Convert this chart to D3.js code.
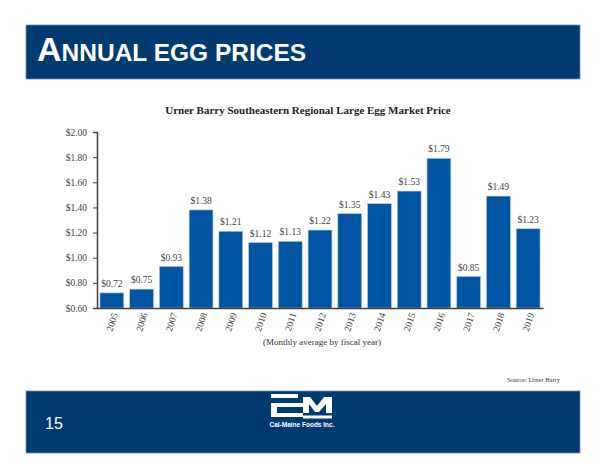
<!DOCTYPE html>
<html><head><meta charset="utf-8">
<script src="https://cdn.jsdelivr.net/npm/d3@7"></script>
<style>body{margin:0;background:#fff}svg{display:block}</style>
</head><body>
<script>
const years = ["2005","2006","2007","2008","2009","2010","2011","2012","2013","2014","2015","2016","2017","2018","2019"];
const prices = [0.72,0.75,0.93,1.38,1.21,1.12,1.13,1.22,1.35,1.43,1.53,1.79,0.85,1.49,1.23];
const yTicks = [0.6,0.8,1.0,1.2,1.4,1.6,1.8,2.0];

const W=605,H=466;
const navy="#003A70", barC="#0054A4";
const serif="Liberation Serif, Times New Roman, serif";
const svg=d3.select("body").append("svg").attr("width",W).attr("height",H);

// header banner
svg.append("rect").attr("x",26).attr("y",25).attr("width",554).attr("height",54).attr("fill",navy).attr("stroke","#6f8fb3").attr("stroke-width",0.8);
const t=svg.append("text").attr("x",37).attr("y",61).attr("fill","#fff").attr("font-family","Liberation Sans, Arial").attr("font-weight","bold");
t.append("tspan").attr("font-size",34).text("A");
t.append("tspan").attr("font-size",24.5).text("NNUAL EGG PRICES");

// chart title
svg.append("text").attr("x",308).attr("y",114).attr("text-anchor","middle").attr("font-family",serif).attr("font-weight","bold").attr("font-size",11).attr("fill","#222").text("Urner Barry Southeastern Regional Large Egg Market Price");

const x=d3.scaleBand().domain(years).range([97,543]).paddingInner(0.2).paddingOuter(0.1);
const y=d3.scaleLinear().domain([0.6,2.0]).range([308,132]);

svg.selectAll("rect.bar").data(prices).join("rect").attr("class","bar")
 .attr("x",(d,i)=>x(years[i])).attr("width",x.bandwidth())
 .attr("y",d=>y(d)).attr("height",d=>y(0.6)-y(d))
 .attr("fill",barC).attr("stroke","#a9c6e6").attr("stroke-width",0.6);

svg.selectAll("text.val").data(prices).join("text").attr("class","val")
 .attr("x",(d,i)=>x(years[i])+x.bandwidth()/2).attr("y",d=>y(d)-6)
 .attr("text-anchor","middle").attr("font-family",serif).attr("font-size",9.5).attr("fill","#444")
 .text(d=>"$"+d.toFixed(2));

// y axis
const ya=svg.append("g").attr("transform","translate(97,0)")
 .call(d3.axisLeft(y).tickValues(yTicks).tickSize(4).tickFormat(d=>"$"+d.toFixed(2)));
ya.attr("font-family",serif);
ya.select(".domain").attr("stroke","#404040").attr("stroke-width",1.5);
ya.selectAll(".tick line").attr("stroke","#404040");
ya.selectAll(".tick text").attr("font-family",serif).attr("font-size",9.5).attr("fill","#444").attr("x",-10);

// x axis
const xa=svg.append("g").attr("transform","translate(0,308)")
 .call(d3.axisBottom(x).tickSize(0).tickSizeOuter(0));
xa.attr("font-family",serif);
xa.select(".domain").attr("stroke","#404040").attr("stroke-width",1.5);
xa.selectAll(".tick text").attr("font-family",serif).attr("font-size",9.5).attr("fill","#444")
 .attr("text-anchor","end").attr("y",0).attr("dy","0.35em")
 .attr("transform","translate(3,5) rotate(-72)");

svg.append("text").attr("x",322).attr("y",345).attr("text-anchor","middle").attr("font-family",serif).attr("font-size",9).attr("fill","#333").text("(Monthly average by fiscal year)");

svg.append("text").attr("x",560).attr("y",382).attr("text-anchor","end").attr("font-family",serif).attr("font-size",6.5).attr("fill","#333").text("Source: Urner Barry");

// footer
svg.append("rect").attr("x",26).attr("y",391).attr("width",554).attr("height",62).attr("fill",navy).attr("stroke","#6f8fb3").attr("stroke-width",0.8);
svg.append("text").attr("x",45).attr("y",429).attr("fill","#fff").attr("font-family","Liberation Sans, Arial").attr("font-size",16).text("15");

// logo
const lg=svg.append("g").attr("fill","#fff");
lg.append("rect").attr("x",271).attr("y",394).attr("width",27).attr("height",4);
lg.append("path").attr("d","M271,403 H303 V407 H277 V413 H303 V417 H271 Z");
lg.append("path").attr("d","M303,397 H310 L317,406 L324,397 H332 V413 H326 V404 L319,412 H315 L309,404 V413 H303 Z");
lg.append("rect").attr("x",303).attr("y",415.5).attr("width",29).attr("height",3);
svg.append("text").attr("x",302).attr("y",427).attr("text-anchor","middle").attr("fill","#fff").attr("font-family","Liberation Sans, Arial").attr("font-weight","bold").attr("font-size",6.5).text("Cal-Maine Foods Inc.");
</script>
</body></html>
